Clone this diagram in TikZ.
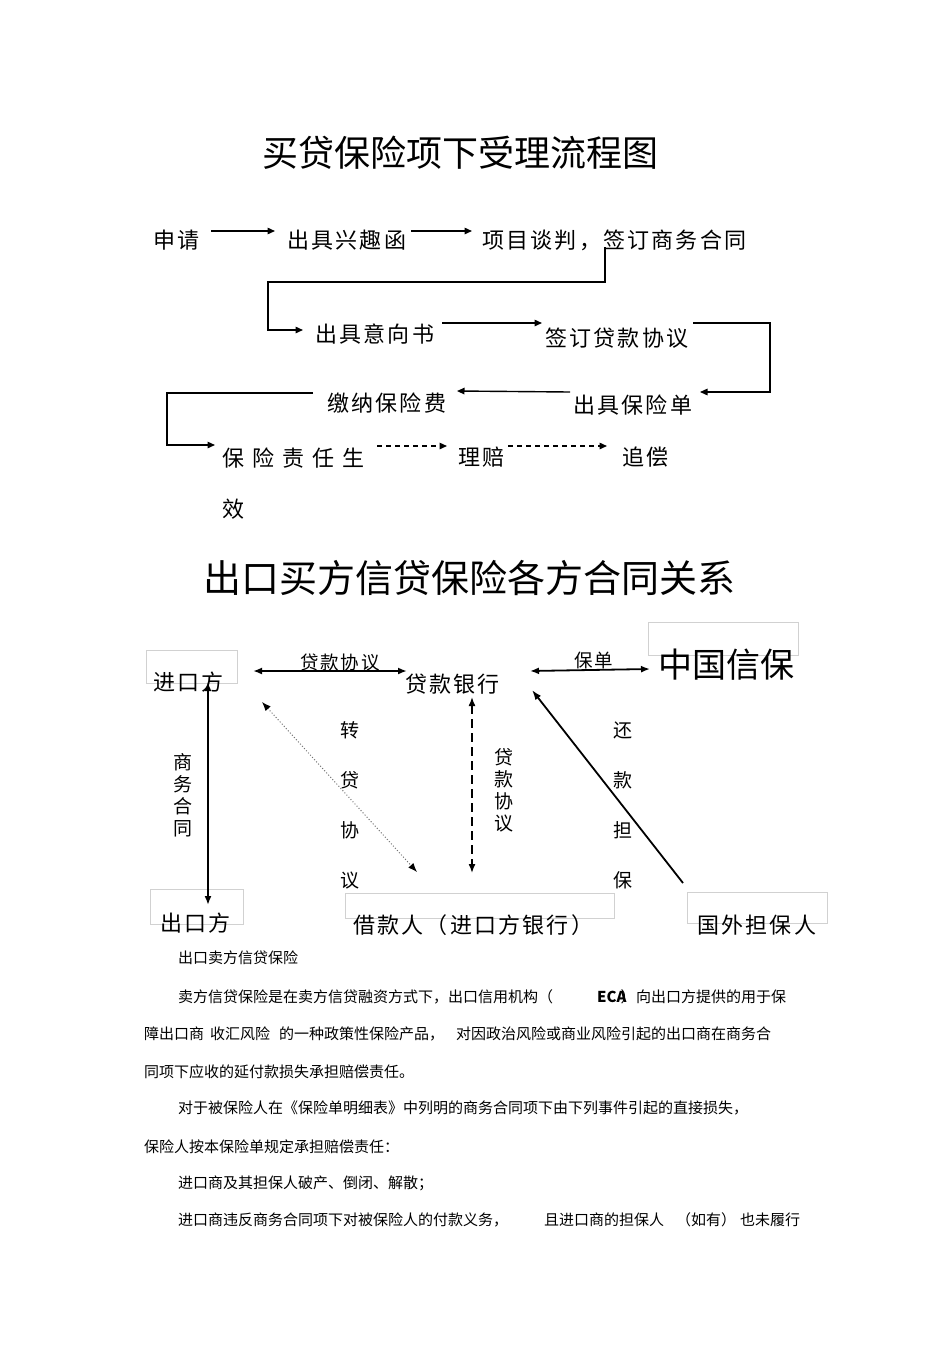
\documentclass[tikz,border=0pt]{standalone}
\usepackage{fontspec}
\setmainfont{Noto Sans CJK SC}
\newfontfamily\cjkwide[LetterSpace=10]{Noto Sans CJK SC}
\usetikzlibrary{arrows.meta}

\tikzset{
  heading/.style={anchor=west,inner sep=0pt,font=\fontsize{#1pt}{#1pt}\selectfont},
  word/.style={anchor=west,inner sep=0pt,font=\cjkwide\fontsize{22pt}{26pt}\selectfont},
  body/.style={anchor=west,inner sep=0pt,font=\fontsize{15pt}{18pt}\selectfont},
  tag/.style={inner sep=0pt,font=\cjkwide\fontsize{18.5pt}{22pt}\selectfont},
  vtag/.style={inner sep=0pt,align=center,font=\fontsize{19pt}{#1pt}\selectfont},
  flow/.style={line width=1.4pt,-{Triangle[length=7.5pt,width=6.5pt]}},
  hint/.style={line width=1.4pt,dash pattern=on 5pt off 4pt,-{Triangle[length=7.5pt,width=6.5pt]}},
  link/.style={line width=1.8pt,{Latex[length=9pt,width=7pt]}-{Latex[length=9pt,width=7pt]}},
  paleframe/.style={draw=black!18,line width=1pt}
}

\begin{document}
\begin{tikzpicture}[x=1pt,y=-1pt]
\useasboundingbox (0,0) rectangle (950,1345);
\fill[white] (0,0) rectangle (950,1345);

% first chart: steps of the buyer credit cover
\node[heading=36] (title1) at (262,153) {买贷保险项下受理流程图};
\node[word] (apply) at (153,240) {申请};
\node[word] (letter) at (287,240) {出具兴趣函};
\node[word] (talks) at (482,240) {项目谈判，签订商务合同};
\node[word] (intent) at (315,334) {出具意向书};
\node[word] (loan) at (545,338) {签订贷款协议};
\node[word] (policy) at (573,405) {出具保险单};
\node[word] (premium) at (327,403) {缴纳保险费};
\node[word] (effect) at (222,458) {保\hspace{8pt}险\hspace{8pt}责\hspace{8pt}任\hspace{8pt}生};
\node[word] (effect2) at (222,509) {效};
\node[word] (claim) at (458,457) {理赔};
\node[word] (recourse) at (622,457) {追偿};

\draw[flow] ([shift={(58,-9)}]apply.west) -- ([shift={(-12,-9)}]letter.west);
\draw[flow] ([shift={(124,-9)}]letter.west) -- ([shift={(-10,-9)}]talks.west);
\draw[flow] ([shift={(123,7)}]talks.west) -- ++(0,35) -| ([shift={(-47,-4)}]intent.west) -- ([shift={(-12,-4)}]intent.west);
\draw[flow] ([shift={(127,-11)}]intent.west) -- ([shift={(-3,-15)}]loan.west);
\draw[flow] ([shift={(148,-15)}]loan.west) -| ([shift={(197,-13)}]policy.west) -- ([shift={(127,-13)}]policy.west);
\draw[flow] ([shift={(-3,-13)}]policy.west) -- ([shift={(130,-12)}]premium.west);
\draw[flow] ([shift={(-14,-10)}]premium.west) -| ([shift={(-55,-13)}]effect.west) -- ([shift={(-7,-13)}]effect.west);
\draw[hint] ([shift={(155,-12)}]effect.west) -- ([shift={(-11,-11)}]claim.west);
\draw[hint] ([shift={(50,-11)}]claim.west) -- ([shift={(-15,-11)}]recourse.west);

% second chart: the parties and their contracts
\node[heading=38] (title2) at (203,578) {出口买方信贷保险各方合同关系};

\draw[paleframe] (146,650) rectangle (237,683);
\draw[paleframe] (648,622) rectangle (798,655);
\draw[paleframe] (150,889) rectangle (243,924);
\draw[paleframe] (345,893) rectangle (614,918);
\draw[paleframe] (687,892) rectangle (827,923);

\node[word] (importer) at (153,682) {进口方};
\node[word] (bank) at (405,684) {贷款银行};
\node[heading=34] (sinosure) at (658,665) {中国信保};
\node[word] (exporter) at (160,923) {出口方};
\node[word] (borrower) at (353,925) {借款人（进口方银行）};
\node[word] (guarantor) at (697,925) {国外担保人};

\draw[link] ([shift={(100,-11)}]importer.west) -- ([shift={(2,-13)}]bank.west);
\draw[link] ([shift={(125,-13)}]bank.west) -- ([shift={(-8,4)}]sinosure.west);
\draw[link] ([shift={(55,0)}]importer.west) -- ([shift={(48,-18)}]exporter.west);
\draw[link,line width=1pt,black!55,dotted,{Latex[length=9pt,width=7pt,color=black]}-{Latex[length=9pt,width=7pt,color=black]}]
  ([shift={(109,20)}]importer.west) -- ([shift={(64,-53)}]borrower.west);
\draw[link,line width=1.5pt,dash pattern=on 9pt off 5pt] ([shift={(67,13)}]bank.west) -- ([shift={(119,-52)}]borrower.west);
\draw[line width=1.8pt,-{Latex[length=10pt,width=7pt]}] ([shift={(-14,-42)}]guarantor.west) -- ([shift={(127,6)}]bank.west);

\node[tag] (loanTag) at (340,662) {贷款协议};
\node[tag] (policyTag) at (594,660) {保单};
\node[vtag=22] (contractTag) at (183,795) {商\\务\\合\\同};
\node[vtag=50] (onlendTag) at (350,805) {转\\贷\\协\\议};
\node[vtag=22] (loanTag2) at (504,790) {贷\\款\\协\\议};
\node[vtag=50] (repayTag) at (623,805) {还\\款\\担\\保};

% text under the charts
\node[body] (p1) at (178,958) {出口卖方信贷保险};
\node[body] (p2a) at (178,997) {卖方信贷保险是在卖方信贷融资方式下，出口信用机构（};
\node[body] (p2b) at (597,997) {\textbf{ECA}\hspace{-6pt}）};
\node[body] (p2c) at (636,997) {向出口方提供的用于保};
\node[body] (p3a) at (144,1034) {障出口商};
\node[body] (p3b) at (210,1034) {收汇风险};
\node[body] (p3c) at (279,1034) {的一种政策性保险产品，};
\node[body] (p3d) at (456,1034) {对因政治风险或商业风险引起的出口商在商务合};
\node[body] (p4) at (144,1072) {同项下应收的延付款损失承担赔偿责任。};
\node[body] (p5) at (178,1108) {对于被保险人在《保险单明细表》中列明的商务合同项下由下列事件引起的直接损失，};
\node[body] (p6) at (144,1147) {保险人按本保险单规定承担赔偿责任：};
\node[body] (p7) at (178,1183) {进口商及其担保人破产、倒闭、解散；};
\node[body] (p8a) at (178,1220) {进口商违反商务合同项下对被保险人的付款义务，};
\node[body] (p8b) at (544,1220) {且进口商的担保人};
\node[body] (p8c) at (676,1220) {（如有）};
\node[body] (p8d) at (740,1220) {也未履行};
\end{tikzpicture}
\end{document}
